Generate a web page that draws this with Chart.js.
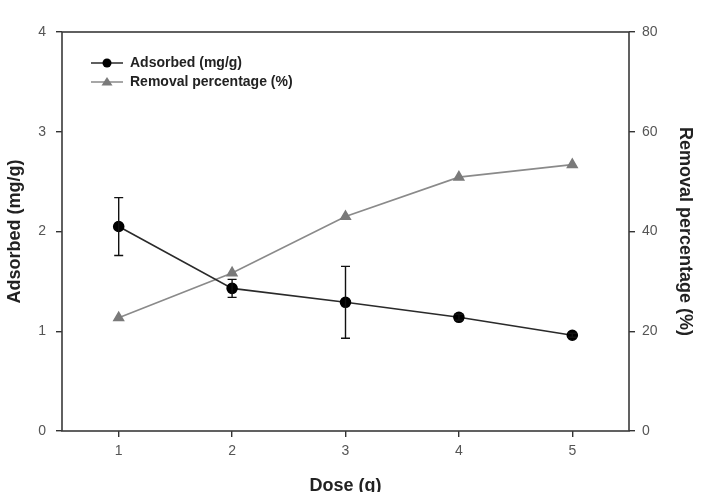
<!DOCTYPE html>
<html><head><meta charset="utf-8">
<script src="https://cdn.jsdelivr.net/npm/chart.js@4/dist/chart.umd.min.js"></script>
<style>html,body{margin:0;padding:0;background:#fff}#wrap{width:712px;height:492px}</style>
</head><body><div id="wrap"><canvas id="c" width="712" height="492"></canvas></div>
<script>
const doses = [1, 2, 3, 4, 5];
const adsorbed = [2.05, 1.43, 1.29, 1.14, 0.96];
const adsorbedErr = [0.29, 0.09, 0.36, 0.03, 0.02];
const removal = [22.7, 31.7, 43.0, 50.9, 53.4];
const xTicks = [1, 2, 3, 4, 5];
const leftTicks = [0, 1, 2, 3, 4];
const rightTicks = [0, 20, 40, 60, 80];

const FONT = "'Liberation Sans', Arial, sans-serif";

const frame = {
  id: 'frame',
  beforeDatasetsDraw(chart) {
    const {ctx, chartArea: a} = chart;
    ctx.save();
    ctx.strokeStyle = '#3a3a3a';
    ctx.lineWidth = 1.6;
    ctx.strokeRect(a.left, a.top, a.right - a.left, a.bottom - a.top);
    ctx.restore();
  }
};

const errBars = {
  id: 'errBars',
  afterDatasetsDraw(chart) {
    const {ctx, scales} = chart;
    const xs = scales.x, ys = scales.y;
    ctx.save();
    ctx.strokeStyle = '#111';
    ctx.lineWidth = 1.4;
    doses.forEach((d, i) => {
      const px = xs.getPixelForValue(d);
      const top = ys.getPixelForValue(adsorbed[i] + adsorbedErr[i]);
      const bot = ys.getPixelForValue(adsorbed[i] - adsorbedErr[i]);
      ctx.beginPath();
      ctx.moveTo(px, top); ctx.lineTo(px, bot);
      ctx.moveTo(px - 4.5, top); ctx.lineTo(px + 4.5, top);
      ctx.moveTo(px - 4.5, bot); ctx.lineTo(px + 4.5, bot);
      ctx.stroke();
    });
    ctx.restore();
  }
};

const legendPlug = {
  id: 'legendPlug',
  afterDraw(chart) {
    const {ctx} = chart;
    const a = chart.chartArea;
    ctx.save();
    chart.data.datasets.forEach((ds, i) => {
      const y = a.top + 31 + i * 19;
      const x0 = a.left + 29, x1 = a.left + 61, xm = (x0 + x1) / 2;
      ctx.strokeStyle = ds.borderColor; ctx.lineWidth = 1.5;
      ctx.beginPath(); ctx.moveTo(x0, y); ctx.lineTo(x1, y); ctx.stroke();
      ctx.fillStyle = ds.pointBackgroundColor;
      if (ds.pointStyle === 'triangle') {
        ctx.beginPath(); ctx.moveTo(xm, y - 5); ctx.lineTo(xm + 5.5, y + 3.5); ctx.lineTo(xm - 5.5, y + 3.5); ctx.closePath(); ctx.fill();
      } else {
        ctx.beginPath(); ctx.arc(xm, y, 4.5, 0, Math.PI * 2); ctx.fill();
      }
      ctx.fillStyle = '#222';
      ctx.font = "bold 14px " + FONT;
      ctx.textBaseline = 'middle';
      ctx.fillText(ds.label, x1 + 7, y);
    });
    ctx.restore();
  }
};

new Chart(document.getElementById('c'), {
  type: 'line',
  data: {
    datasets: [
      {
        label: 'Adsorbed (mg/g)',
        data: doses.map((d, i) => ({x: d, y: adsorbed[i]})),
        yAxisID: 'y',
        borderColor: '#2a2a2a', borderWidth: 1.6,
        pointStyle: 'circle', pointRadius: 5, pointBackgroundColor: '#000', pointBorderColor: '#000',
        order: 1
      },
      {
        label: 'Removal percentage (%)',
        data: doses.map((d, i) => ({x: d, y: removal[i]})),
        yAxisID: 'y2',
        borderColor: '#8a8a8a', borderWidth: 1.6,
        pointStyle: 'triangle', pointRadius: 5.5, pointBackgroundColor: '#7a7a7a', pointBorderColor: '#7a7a7a',
        order: 2
      }
    ]
  },
  options: {
    responsive: false, animation: false,
    layout: {padding: {top: 32, left: 0, right: 0, bottom: 0}},
    plugins: {legend: {display: false}, tooltip: {enabled: false}},
    scales: {
      x: {
        type: 'linear', min: 0.5, max: 5.5,
        afterBuildTicks: s => { s.ticks = xTicks.map(v => ({value: v})); },
        afterFit: s => { s.height = 61; },
        grid: {drawOnChartArea: false, drawTicks: true, tickLength: 6, color: '#333', lineWidth: 1.4},
        border: {display: false},
        ticks: {color: '#555', font: {family: FONT, size: 14}, padding: 6},
        title: {display: true, text: 'Dose (g)', color: '#222', font: {family: FONT, size: 18, weight: 'bold'}, padding: {top: 0, bottom: -5}}
      },
      y: {
        type: 'linear', position: 'left', min: 0, max: 4,
        afterBuildTicks: s => { s.ticks = leftTicks.map(v => ({value: v})); },
        afterFit: s => { s.width = 62; },
        grid: {drawOnChartArea: false, drawTicks: true, tickLength: 6, color: '#333', lineWidth: 1.4},
        border: {display: false},
        ticks: {color: '#555', font: {family: FONT, size: 14}, padding: 10},
        title: {display: true, text: 'Adsorbed (mg/g)', color: '#222', font: {family: FONT, size: 18, weight: 'bold'}, padding: {top: 4, bottom: 0}}
      },
      y2: {
        type: 'linear', position: 'right', min: 0, max: 80,
        afterBuildTicks: s => { s.ticks = rightTicks.map(v => ({value: v})); },
        afterFit: s => { s.width = 83; },
        grid: {drawOnChartArea: false, drawTicks: true, tickLength: 6, color: '#333', lineWidth: 1.4},
        border: {display: false},
        ticks: {color: '#555', font: {family: FONT, size: 14}, padding: 7},
        title: {display: true, text: 'Removal percentage (%)', color: '#222', font: {family: FONT, size: 18, weight: 'bold'}, padding: {top: 16, bottom: 0}}
      }
    }
  },
  plugins: [frame, errBars, legendPlug]
});
</script>
</body></html>
